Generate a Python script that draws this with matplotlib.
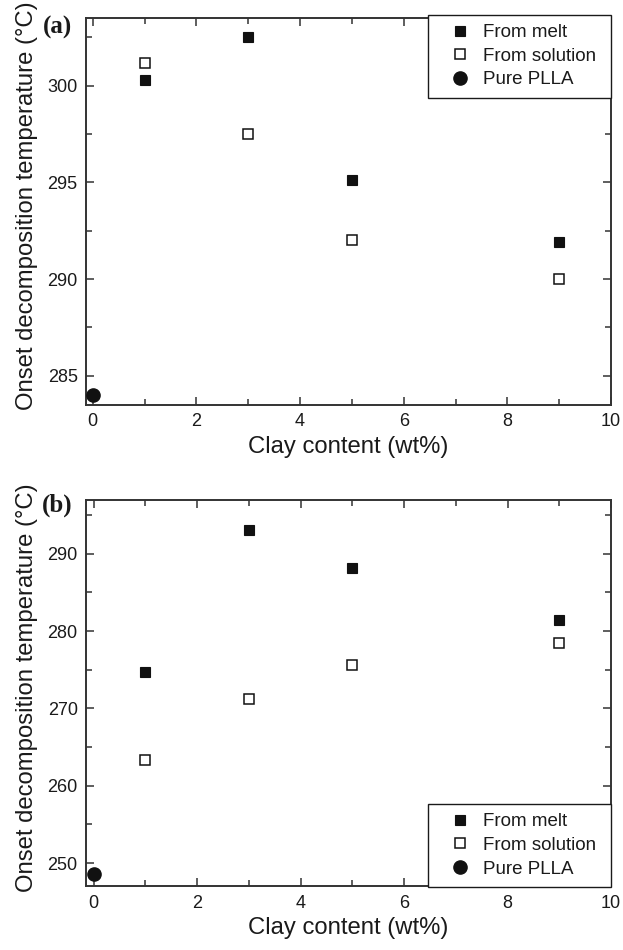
import matplotlib
matplotlib.use("Agg")
import matplotlib.pyplot as plt
from matplotlib.patches import Rectangle
from matplotlib.ticker import MultipleLocator

plt.rcParams['font.family'] = ['Liberation Sans', 'DejaVu Sans']

# Clay content (wt%)
clay_filled = [1, 3, 5, 9]
clay_pure = [0]

# (a) onset decomposition temperature (°C)
a_melt = [300.3, 302.5, 295.1, 291.9]
a_solution = [301.2, 297.5, 292.0, 290.0]
a_pure = [284.0]

# (b) onset decomposition temperature (°C)
b_melt = [274.7, 293.1, 288.2, 281.4]
b_solution = [263.4, 271.2, 275.6, 278.5]
b_pure = [248.6]

labels = ["From melt", "From solution", "Pure PLLA"]

W, H = 623, 950
fig = plt.figure(figsize=(W / 100, H / 100), dpi=100)
ax_a = fig.add_axes([0.138, 0.574, 0.843, 0.407])
ax_b = fig.add_axes([0.138, 0.067, 0.843, 0.407])

spine_c = "#333333"
mark_c = "#111111"
text_c = "#1a1a1a"

# legend box padding in pixels (horizontal, vertical)
PAD_X, PAD_Y = 15, 9


def draw(ax, melt, sol, pure, ylim, ymaj, ymin, xleft, tag, tag_y, loc, anchor):
    h1, = ax.plot(clay_filled, melt, ls="none", marker="s", ms=7.8,
                  mfc=mark_c, mec=mark_c, mew=0.8)
    h2, = ax.plot(clay_filled, sol, ls="none", marker="s", ms=7.2,
                  mfc="white", mec=mark_c, mew=1.1)
    h3, = ax.plot(clay_pure, pure, ls="none", marker="o", ms=9.5,
                  mfc=mark_c, mec=mark_c, clip_on=False, zorder=5)
    ax.set_xlim(xleft, 10)
    ax.set_ylim(*ylim)
    ax.xaxis.set_major_locator(MultipleLocator(2))
    ax.xaxis.set_minor_locator(MultipleLocator(1))
    ax.yaxis.set_major_locator(MultipleLocator(ymaj))
    ax.yaxis.set_minor_locator(MultipleLocator(ymin))
    ax.tick_params(which="both", direction="in", top=True, right=True,
                   labeltop=False, labelright=False, color=spine_c,
                   width=1.1, labelsize=13, labelcolor=text_c)
    ax.tick_params(which="major", length=6, pad=6)
    ax.tick_params(which="minor", length=4)
    for s in ax.spines.values():
        s.set_color(spine_c)
        s.set_linewidth(1.4)
    ax.set_xlabel("Clay content (wt%)", fontsize=17.2, color=text_c, labelpad=4)
    ax.set_ylabel("Onset decomposition temperature (°C)", fontsize=17.2,
                  color=text_c, labelpad=7)
    ax.yaxis.label.set_y(0.515)
    ax.text(-0.054, tag_y, tag, transform=ax.transAxes, ha="center",
            va="center", fontsize=18, fontweight="bold",
            family="Liberation Serif", color=text_c)
    leg = ax.legend([h1, h2, h3], labels, loc=loc,
                    bbox_to_anchor=(anchor[0] / W, 1 - anchor[1] / H),
                    bbox_transform=fig.transFigure,
                    fontsize=13.5, frameon=False, borderpad=0,
                    borderaxespad=0, handletextpad=0.32, handlelength=1.8,
                    labelspacing=0.35)
    for t in leg.get_texts():
        t.set_color(text_c)
    return leg


legends = [
    draw(ax_a, a_melt, a_solution, a_pure, (283.5, 303.5), 5, 2.5, -0.13,
         "(a)", 0.975, "upper right", (611 - PAD_X, 15 + PAD_Y)),
    draw(ax_b, b_melt, b_solution, b_pure, (247.0, 297.0), 10, 5, -0.15,
         "(b)", 0.985, "lower right", (611 - PAD_X, 886.5 - PAD_Y)),
]

# frame each legend with a plain box
fig.canvas.draw()
for leg in legends:
    bb = leg.get_window_extent()
    frame = Rectangle((bb.x0 - PAD_X, bb.y0 - PAD_Y),
                      bb.width + 2 * PAD_X, bb.height + 2 * PAD_Y,
                      transform=None, fill=True, fc="white", ec=text_c,
                      lw=1.0, zorder=4)
    fig.add_artist(frame)
    leg.remove()
    fig.add_artist(leg)
    leg.set_zorder(6)

fig.savefig("out.png", dpi=100)
